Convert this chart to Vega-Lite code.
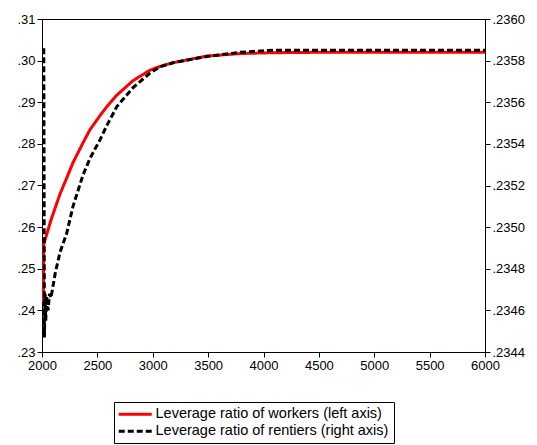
{
  "$schema": "https://vega.github.io/schema/vega-lite/v6.json",
  "width": 443,
  "height": 333,
  "autosize": {"type": "none"},
  "padding": {"left": 42, "top": 19, "right": 52, "bottom": 93},
  "background": "white",
  "config": {
    "view": {"stroke": "black", "strokeWidth": 1},
    "font": "Liberation Sans",
    "axis": {
      "grid": false,
      "domainColor": "black",
      "tickColor": "black",
      "labelColor": "black",
      "labelFont": "Liberation Sans",
      "labelFontSize": 13,
      "tickSize": 5,
      "labelPadding": 2,
      "title": null
    }
  },
  "datasets": {
    "workers": [
      {"t": 2012, "v": 0.2420, "series": "Leverage ratio of workers (left axis)"},
      {"t": 2016, "v": 0.2560, "series": "Leverage ratio of workers (left axis)"},
      {"t": 2042, "v": 0.2582, "series": "Leverage ratio of workers (left axis)"},
      {"t": 2081, "v": 0.2617, "series": "Leverage ratio of workers (left axis)"},
      {"t": 2163, "v": 0.2680, "series": "Leverage ratio of workers (left axis)"},
      {"t": 2223, "v": 0.2718, "series": "Leverage ratio of workers (left axis)"},
      {"t": 2280, "v": 0.2755, "series": "Leverage ratio of workers (left axis)"},
      {"t": 2373, "v": 0.2804, "series": "Leverage ratio of workers (left axis)"},
      {"t": 2433, "v": 0.2834, "series": "Leverage ratio of workers (left axis)"},
      {"t": 2524, "v": 0.2868, "series": "Leverage ratio of workers (left axis)"},
      {"t": 2587, "v": 0.2890, "series": "Leverage ratio of workers (left axis)"},
      {"t": 2675, "v": 0.2917, "series": "Leverage ratio of workers (left axis)"},
      {"t": 2822, "v": 0.2952, "series": "Leverage ratio of workers (left axis)"},
      {"t": 2975, "v": 0.2977, "series": "Leverage ratio of workers (left axis)"},
      {"t": 3065, "v": 0.2986, "series": "Leverage ratio of workers (left axis)"},
      {"t": 3183, "v": 0.2995, "series": "Leverage ratio of workers (left axis)"},
      {"t": 3490, "v": 0.3011, "series": "Leverage ratio of workers (left axis)"},
      {"t": 3788, "v": 0.3017, "series": "Leverage ratio of workers (left axis)"},
      {"t": 4086, "v": 0.3019, "series": "Leverage ratio of workers (left axis)"},
      {"t": 4500, "v": 0.3020, "series": "Leverage ratio of workers (left axis)"},
      {"t": 5000, "v": 0.3020, "series": "Leverage ratio of workers (left axis)"},
      {"t": 6000, "v": 0.3020, "series": "Leverage ratio of workers (left axis)"}
    ],
    "rentiers": [
      {"t": 2016, "v": 0.23586, "series": "Leverage ratio of rentiers (right axis)"},
      {"t": 2022, "v": 0.23447, "series": "Leverage ratio of rentiers (right axis)"},
      {"t": 2028, "v": 0.23468, "series": "Leverage ratio of rentiers (right axis)"},
      {"t": 2034, "v": 0.23455, "series": "Leverage ratio of rentiers (right axis)"},
      {"t": 2042, "v": 0.23467, "series": "Leverage ratio of rentiers (right axis)"},
      {"t": 2055, "v": 0.23460, "series": "Leverage ratio of rentiers (right axis)"},
      {"t": 2068, "v": 0.23468, "series": "Leverage ratio of rentiers (right axis)"},
      {"t": 2081, "v": 0.23466, "series": "Leverage ratio of rentiers (right axis)"},
      {"t": 2120, "v": 0.23478, "series": "Leverage ratio of rentiers (right axis)"},
      {"t": 2163, "v": 0.23488, "series": "Leverage ratio of rentiers (right axis)"},
      {"t": 2223, "v": 0.23497, "series": "Leverage ratio of rentiers (right axis)"},
      {"t": 2280, "v": 0.23510, "series": "Leverage ratio of rentiers (right axis)"},
      {"t": 2370, "v": 0.23525, "series": "Leverage ratio of rentiers (right axis)"},
      {"t": 2433, "v": 0.23533, "series": "Leverage ratio of rentiers (right axis)"},
      {"t": 2524, "v": 0.23542, "series": "Leverage ratio of rentiers (right axis)"},
      {"t": 2587, "v": 0.23549, "series": "Leverage ratio of rentiers (right axis)"},
      {"t": 2677, "v": 0.23558, "series": "Leverage ratio of rentiers (right axis)"},
      {"t": 2822, "v": 0.23567, "series": "Leverage ratio of rentiers (right axis)"},
      {"t": 2975, "v": 0.23574, "series": "Leverage ratio of rentiers (right axis)"},
      {"t": 3065, "v": 0.23577, "series": "Leverage ratio of rentiers (right axis)"},
      {"t": 3183, "v": 0.23579, "series": "Leverage ratio of rentiers (right axis)"},
      {"t": 3490, "v": 0.23582, "series": "Leverage ratio of rentiers (right axis)"},
      {"t": 3788, "v": 0.23584, "series": "Leverage ratio of rentiers (right axis)"},
      {"t": 4086, "v": 0.23585, "series": "Leverage ratio of rentiers (right axis)"},
      {"t": 5000, "v": 0.23585, "series": "Leverage ratio of rentiers (right axis)"},
      {"t": 6000, "v": 0.23585, "series": "Leverage ratio of rentiers (right axis)"}
    ]
  },
  "encoding": {
    "x": {
      "field": "t",
      "type": "quantitative",
      "scale": {"domain": [2000, 6000], "nice": false, "zero": false},
      "axis": {"values": [2000, 2500, 3000, 3500, 4000, 4500, 5000, 5500, 6000], "format": "d", "labelFlush": false}
    }
  },
  "layer": [
    {
      "data": {"name": "workers"},
      "mark": {"type": "line", "strokeWidth": 3, "clip": true},
      "encoding": {
        "y": {
          "field": "v",
          "type": "quantitative",
          "scale": {"domain": [0.23, 0.31], "nice": false, "zero": false},
          "axis": {"orient": "left", "values": [0.23, 0.24, 0.25, 0.26, 0.27, 0.28, 0.29, 0.30, 0.31], "labelExpr": "replace(format(datum.value, '.2f'), '0.', '.')", "labelFlush": false}
        },
        "color": {
          "field": "series",
          "type": "nominal",
          "scale": {"domain": ["Leverage ratio of workers (left axis)", "Leverage ratio of rentiers (right axis)"], "range": ["#ff0000", "#000000"]},
          "legend": {
            "title": null,
            "orient": "none",
            "legendX": 72,
            "legendY": 383,
            "direction": "vertical",
            "symbolType": "M-3,0H3",
            "symbolSize": 121,
            "symbolStrokeWidth": 3,
            "symbolOffset": 9,
            "labelFontSize": 14.5,
            "labelFont": "Liberation Sans",
            "labelColor": "black",
            "labelLimit": 400,
            "labelOffset": 13,
            "rowPadding": 2,
            "padding": 5,
            "strokeColor": "black",
            "fillColor": "white"
          }
        },
        "strokeDash": {
          "field": "series",
          "type": "nominal",
          "scale": {"domain": ["Leverage ratio of workers (left axis)", "Leverage ratio of rentiers (right axis)"], "range": [[1, 0], [6, 3]]},
          "legend": null
        }
      }
    },
    {
      "data": {"name": "rentiers"},
      "mark": {"type": "line", "strokeWidth": 3, "clip": true},
      "encoding": {
        "y": {
          "field": "v",
          "type": "quantitative",
          "scale": {"domain": [0.2344, 0.2360], "nice": false, "zero": false},
          "axis": {"orient": "right", "values": [0.2344, 0.2346, 0.2348, 0.2350, 0.2352, 0.2354, 0.2356, 0.2358, 0.2360], "labelExpr": "replace(format(datum.value, '.4f'), '0.', '.')", "labelFlush": false}
        },
        "color": {"field": "series", "type": "nominal"},
        "strokeDash": {"field": "series", "type": "nominal"}
      }
    }
  ],
  "resolve": {"scale": {"y": "independent"}}
}
